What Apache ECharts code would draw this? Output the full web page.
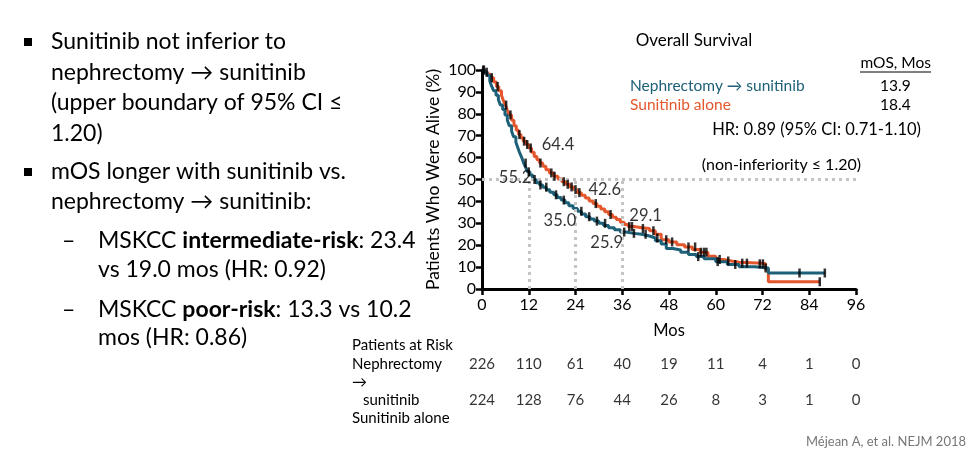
<!DOCTYPE html>
<html><head><meta charset="utf-8">
<script src="https://cdn.jsdelivr.net/npm/echarts@6/dist/echarts.min.js"></script>
<style>html,body{margin:0;padding:0;background:#fff}#c{width:974px;height:466px}</style>
</head><body><div id="c"></div>
<script>
// ---- data ----
const monthTicks = [0,12,24,36,48,60,72,84,96];
const nephCurve = [[0,100],[0.7,99],[1.3,97.5],[2,95],[2.5,92.5],[3,90.5],[3.6,88.5],[4.2,86.5],[4.7,84],[5.3,82],[5.9,79.5],[6.5,77],[7,74.5],[7.6,72],[8.1,69.5],[8.7,67],[9.2,64.5],[9.7,62],[10.2,60],[10.7,57.5],[11.2,55.5],[11.7,53.5],[12.3,52],[13,50],[13.9,48.5],[14.8,47.5],[15.6,46.5],[16.5,45.3],[17.4,44.2],[18.4,43],[19.3,41.8],[20.3,40.6],[21.3,39.4],[22.3,38],[23.4,36.8],[24.5,35.5],[25.5,34.3],[26.6,33],[27.7,32],[28.8,31],[30,30],[31.2,29],[32.5,28],[34,27],[35.5,26],[37,25.4],[39,25],[41,24.2],[43,23.3],[44.5,22],[46,20.5],[47.3,18.5],[49,17.8],[51,16.8],[53,15.8],[55,14.8],[57,13.8],[60,12.5],[63,11.2],[66,10.2],[70,9.6],[73.5,7.3],[88,7.3]];
const sunCurve = [[0,100],[0.8,99],[1.5,98],[2.2,96.5],[3,94.5],[3.7,92.5],[4.3,90.5],[5,88.5],[5.5,86],[6,84],[6.5,81.5],[7,79.5],[7.6,77],[8.2,74.5],[8.8,72.5],[9.4,70.5],[10,69],[10.6,67.5],[11.3,66],[12,64.4],[12.7,62.5],[13.4,60.5],[14.1,59],[14.8,57.5],[15.6,56],[16.4,54.5],[17.3,53],[18.4,51.5],[19.5,50.2],[20.5,49],[21.5,47.8],[22.5,46.6],[23.5,45.4],[24.5,44],[25.5,42.8],[26.5,41.5],[27.5,40.2],[28.5,39],[29.5,37.8],[30.5,36.5],[31.5,35.3],[32.5,34],[33.5,32.8],[34.5,31.7],[35.5,30.5],[36.5,29.5],[37.5,28.5],[39,28],[41,27.6],[43,26.6],[44.5,25],[46,22.5],[48,21.5],[50,20.2],[52,19.2],[54,18],[56,16.8],[58,15],[60,13.5],[62,12.8],[64,12.2],[66,11.8],[72,11.5],[72.8,9],[73.5,3.3],[86.7,3.3]];
const nephCensor = [[0.3,100],[11.2,57.5],[12,53.5],[13.5,50],[15,47.5],[16.5,46.5],[19,43],[21,40.6],[25.5,35.5],[27.5,33],[29.5,31],[31.6,30],[36.5,26],[39,25.4],[42,25],[45,23.3],[55.5,14.8],[60.5,12.5],[65,11.2],[72.8,9.6],[81.5,7.3],[88,7.3]];
const sunCensor = [[0.5,100],[1.2,99],[2.5,96.5],[4,92.5],[6.2,84],[7.3,79.5],[9.6,70.5],[10.8,67.5],[11.6,66],[12.5,64.4],[15,57.5],[17.8,53],[18.6,51.5],[21,49],[22,47.8],[23,46.6],[24,45.4],[25,44],[29.2,39],[33,34],[37.8,28.5],[38.5,28.5],[41.3,27.6],[44,26.6],[47.3,22.5],[48.8,21.5],[53,19.2],[54.7,19.2],[56.2,16.8],[57,16.8],[57.6,16.8],[61,13.5],[63.2,12.8],[66.8,11.8],[68,11.8],[71.3,11.5],[72.1,11.5],[86.7,3.3]];
const landmarkMonths = [12,24,36];
const landmarkLabels = ['64.4','55.2','42.6','35.0','29.1','25.9'];
const riskNeph = [226,110,61,40,19,11,4,1,0];
const riskSun = [224,128,76,44,26,8,3,1,0];
const seriesNames = ['Nephrectomy \u2192 sunitinib','Sunitinib alone'];
const mosValues = ['13.9','18.4'];

// ---- styling / layout ----
const TEAL = '#1d6078', ORANGE = '#e4572d';
const FF = 'Lato, "Open Sans", sans-serif';
const labelPos = [[19.5,65.8],[8.5,50.7],[31.5,45.2],[20,31],[42,33.3],[32,21]];

const chart = echarts.init(document.getElementById('c'), null, {renderer:'canvas'});

function txt(x,y,text,size,opts){
  opts = opts||{};
  return {type:'text', x:x, y:y, z:10, style:Object.assign({text:text, font:(opts.weight||'normal')+' '+size+'px '+FF, fill:opts.fill||'#000', textAlign:opts.align||'left', textVerticalAlign:'middle', align:opts.align||'left', verticalAlign:'middle'}, opts.rich?{rich:opts.rich}:{})};
}
const LS = 23;
const rich = {b:{fontWeight:'bold', fontSize:LS, fontFamily:FF, fill:'#000'}, n:{fontSize:LS, fontFamily:FF}};
const graphics = [
  {type:'rect', shape:{x:24,y:38,width:8,height:8}, style:{fill:'#000'}},
  txt(51,42,'Sunitinib not inferior to',LS),
  txt(51,73,'nephrectomy \u2192 sunitinib',LS),
  txt(51,103,'(upper boundary of 95% CI \u2264',LS),
  txt(51,134,'1.20)',LS),
  {type:'rect', shape:{x:24,y:168,width:8,height:8}, style:{fill:'#000'}},
  txt(51,172,'mOS longer with sunitinib vs.',LS),
  txt(51,202,'nephrectomy \u2192 sunitinib:',LS),
  txt(62,241,'\u2013',LS),
  {type:'text', x:98, y:241, style:{text:'{n|MSKCC }{b|intermediate-risk}{n|: 23.4}', rich:rich, font:LS+'px '+FF, textVerticalAlign:'middle', verticalAlign:'middle'}},
  txt(98,270,'vs 19.0 mos (HR: 0.92)',LS),
  txt(62,310,'\u2013',LS),
  {type:'text', x:98, y:310, style:{text:'{n|MSKCC }{b|poor-risk}{n|: 13.3 vs 10.2}', rich:rich, font:LS+'px '+FF, textVerticalAlign:'middle', verticalAlign:'middle'}},
  txt(98,338,'mos (HR: 0.86)',LS),
  // chart header / legend
  txt(694,41,'Overall Survival',17,{align:'center'}),
  txt(931,63,'mOS, Mos',15.5,{align:'right'}),
  {type:'line', shape:{x1:860,y1:72,x2:931,y2:72}, style:{stroke:'#000',lineWidth:1}},
  txt(630,86,seriesNames[0],15.5,{fill:TEAL}),
  txt(880,86,mosValues[0],15.5),
  txt(630,105,seriesNames[1],15.5,{fill:ORANGE}),
  txt(880,105,mosValues[1],15.5),
  txt(921,130,'HR: 0.89 (95% CI: 0.71-1.10)',16.5,{align:'right'}),
  txt(861,165,'(non-inferiority \u2264 1.20)',16,{align:'right'}),
  // at-risk row labels
  txt(352,345,'Patients at Risk',15),
  txt(352,364,'Nephrectomy',15),
  txt(352,382,'\u2192',15),
  txt(363,400,'sunitinib',15),
  txt(352,418,'Sunitinib alone',15),
  txt(966,442,'M\u00e9jean A, et al. NEJM 2018',13,{align:'right', fill:'#777'})
];

const riskData = [];
monthTicks.forEach((m,i)=>{ riskData.push({value:[m,1], label:{formatter:String(riskNeph[i])}}); riskData.push({value:[m,0], label:{formatter:String(riskSun[i])}}); });

const option = {
  animation:false,
  backgroundColor:'#fff',
  textStyle:{fontFamily:FF},
  grid:[{left:482, top:70, width:374, height:219, containLabel:false},
        {left:482, top:364, width:374, height:36, containLabel:false}],
  xAxis:[{type:'value', gridIndex:0, min:0, max:96, interval:12,
    name:'Mos', nameLocation:'middle', nameGap:33, nameTextStyle:{fontSize:16.5, color:'#000', fontFamily:FF},
    axisLine:{lineStyle:{color:'#000', width:3}}, axisTick:{length:6, lineStyle:{color:'#000', width:2.5}},
    axisLabel:{fontSize:16, color:'#000', margin:8, fontFamily:FF}, splitLine:{show:false}},
    {type:'value', gridIndex:1, min:0, max:96, show:false}],
  yAxis:[{type:'value', gridIndex:0, min:0, max:100, interval:10,
    name:'Patients Who Were Alive (%)', nameLocation:'middle', nameGap:40, nameRotate:90,
    nameTextStyle:{fontSize:17.5, color:'#000', fontFamily:FF},
    axisLine:{show:true, lineStyle:{color:'#000', width:3}}, axisTick:{show:true, length:6, lineStyle:{color:'#000', width:2.5}},
    axisLabel:{fontSize:16, color:'#000', margin:6, fontFamily:FF}, splitLine:{show:false}},
    {type:'value', gridIndex:1, min:0, max:1, show:false}],
  graphic:graphics,
  series:[
    {type:'line', name:'guides', xAxisIndex:0, yAxisIndex:0, data:[], silent:true, z:1,
     markLine:{silent:true, symbol:'none', label:{show:false}, lineStyle:{type:[3,4], color:'#c4c4c4', width:3},
       data:[[{coord:[0,50]},{coord:[96,50]}]].concat(landmarkMonths.map(m=>[{coord:[m,0]},{coord:[m,50]}]))}},
    {type:'line', name:seriesNames[1], step:'end', data:sunCurve, showSymbol:false, symbol:'none', z:3,
     lineStyle:{color:ORANGE, width:3}, itemStyle:{color:ORANGE}},
    {type:'line', name:seriesNames[0], step:'end', data:nephCurve, showSymbol:false, symbol:'none', z:4,
     lineStyle:{color:TEAL, width:3}, itemStyle:{color:TEAL}},
    {type:'scatter', name:'censorS', data:sunCensor, symbol:'rect', symbolSize:[2.5,9], itemStyle:{color:'#000'}, z:6},
    {type:'scatter', name:'censorN', data:nephCensor, symbol:'rect', symbolSize:[2.5,9], itemStyle:{color:'#000'}, z:6},
    {type:'scatter', name:'labels', z:7, symbolSize:0,
     data:labelPos.map((p,i)=>({value:p, label:{formatter:landmarkLabels[i]}})),
     label:{show:true, position:'inside', fontSize:16.5, color:'#000', fontFamily:FF}},
    {type:'scatter', name:'risk', xAxisIndex:1, yAxisIndex:1, symbolSize:0, data:riskData,
     label:{show:true, position:'inside', fontSize:15, color:'#000', fontFamily:FF}}
  ]
};
chart.setOption(option);
</script></body></html>
